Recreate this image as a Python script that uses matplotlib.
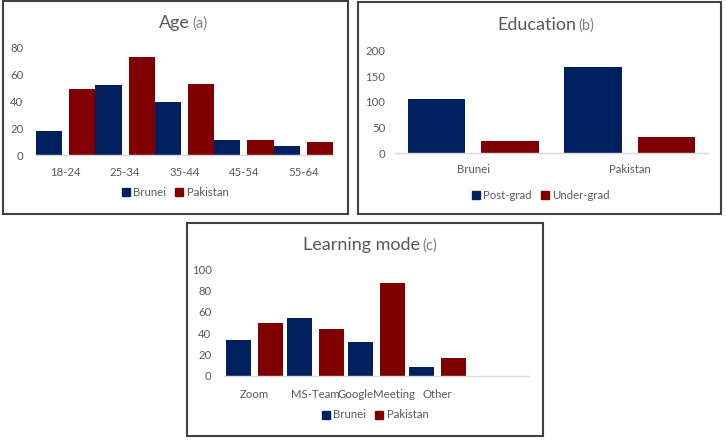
import matplotlib.pyplot as plt
from matplotlib.patches import Rectangle, Patch

plt.rcParams['font.family'] = ['Lato', 'DejaVu Sans']

# Datos
age_groups = ['18-24', '25-34', '35-44', '45-54', '55-64']
age_brunei = [18, 52, 40, 11, 7]
age_pakistan = [49, 73, 53, 11, 10]

edu_countries = ['Brunei', 'Pakistan']
edu_post = [105, 168]
edu_under = [24, 31]

modes = ['Zoom', 'MS-Team', 'GoogleMeeting', 'Other', '']
mode_brunei = [34, 54, 32, 8, 0]
mode_pakistan = [50, 44, 87, 17, 0]

azul = '#002060'
rojo = '#800000'
gris = '#595959'

W, H = 726, 441
fig = plt.figure(figsize=(W / 100, H / 100), dpi=100)


def px_axes(x0, y0, x1, y1):
    # caja en pixeles -> fraccion de figura
    return fig.add_axes([x0 / W, 1 - y1 / H, (x1 - x0) / W, (y1 - y0) / H])


def estilo(ax, ymax, ystep, ypad, xpad):
    ax.set_ylim(0, ymax)
    ax.set_yticks(range(0, ymax + 1, ystep))
    for s in ['top', 'right', 'left']:
        ax.spines[s].set_visible(False)
    ax.spines['bottom'].set_color('#D9D9D9')
    ax.spines['bottom'].set_linewidth(1)
    ax.tick_params(axis='both', length=0, labelsize=8.2, labelcolor=gris)
    ax.tick_params(axis='y', pad=ypad)
    ax.tick_params(axis='x', pad=xpad)


def titulo(x, y, main, sub):
    fig.text(x / W, 1 - y / H, main, ha='right', va='baseline', fontsize=13, color=gris)
    fig.text((x + 2) / W, 1 - y / H, sub, ha='left', va='baseline', fontsize=10.5, color='#7F7F7F')


def leyenda(ax, labels, x, y):
    handles = [Patch(color=azul), Patch(color=rojo)]
    ax.legend(handles, labels, loc='center', bbox_to_anchor=(x / W, 1 - y / H),
              bbox_transform=fig.transFigure, ncol=2, frameon=False, fontsize=8.2,
              labelcolor=gris, handlelength=0.7, handleheight=0.7, handletextpad=0.3,
              columnspacing=0.8)


def caja(x0, y0, x1, y1):
    fig.patches.append(Rectangle((x0 / W, 1 - y1 / H), (x1 - x0) / W, (y1 - y0) / H,
                                 transform=fig.transFigure, fill=False,
                                 edgecolor='#404040', linewidth=1.5))


# (a) Edad
ax1 = px_axes(36, 48, 333, 155)
x = range(len(age_groups))
ax1.bar([i - 0.28 for i in x], age_brunei, width=0.44, color=azul)
ax1.bar([i + 0.28 for i in x], age_pakistan, width=0.44, color=rojo)
ax1.set_xlim(-0.5, len(age_groups) - 0.5)
ax1.set_xticks(list(x))
ax1.set_xticklabels(age_groups)
estilo(ax1, 80, 20, 9, 9)
titulo(190, 28, 'Age', '(a)')
leyenda(ax1, ['Brunei', 'Pakistan'], 175, 192)
caja(3, 1, 348, 214)

# (b) Educacion
ax2 = px_axes(395, 51, 708, 153)
x = range(len(edu_countries))
ax2.bar([i - 0.235 for i in x], edu_post, width=0.37, color=azul)
ax2.bar([i + 0.235 for i in x], edu_under, width=0.37, color=rojo)
ax2.set_xlim(-0.5, len(edu_countries) - 0.5)
ax2.set_xticks(list(x))
ax2.set_xticklabels(edu_countries)
estilo(ax2, 200, 50, 7, 8)
titulo(576, 30, 'Education', '(b)')
leyenda(ax2, ['Post-grad', 'Under-grad'], 541, 195)
caja(358, 2, 721, 214)

# (c) Modo de aprendizaje
ax3 = px_axes(224, 269, 529, 376)
x = range(len(modes))
ax3.bar([i - 0.26 for i in x], mode_brunei, width=0.41, color=azul)
ax3.bar([i + 0.26 for i in x], mode_pakistan, width=0.41, color=rojo)
ax3.set_xlim(-0.5, len(modes) - 0.5)
ax3.set_xticks(list(x))
ax3.set_xticklabels(modes)
estilo(ax3, 100, 20, 9, 9)
titulo(420, 250, 'Learning mode', '(c)')
leyenda(ax3, ['Brunei', 'Pakistan'], 375, 415)
caja(187, 223, 543, 436)

fig.savefig('out.png', dpi=100)
